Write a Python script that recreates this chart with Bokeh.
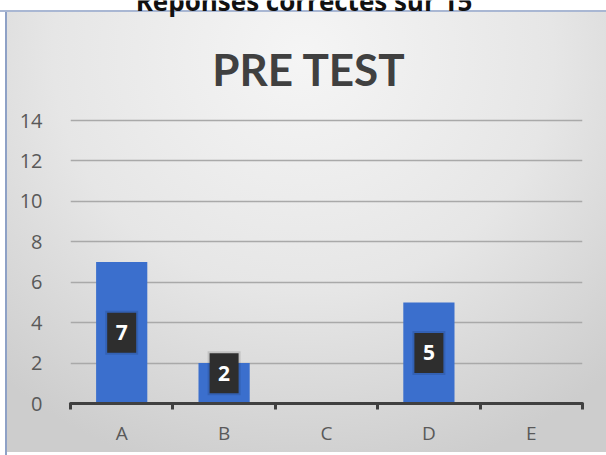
from bokeh.plotting import figure
from bokeh.models import ColumnDataSource, FixedTicker, Range1d
from bokeh.core.properties import value
from bokeh.embed import file_html
from bokeh.resources import INLINE

# ---- data ----
categories = ["A", "B", "C", "D", "E"]
scores = [7, 2, 0, 5, 0]
y_ticks = [0, 2, 4, 6, 8, 10, 12, 14]
chart_title = "PRE TEST"
top_caption = "Réponses correctes sur 15"

xs = [i + 0.5 for i in range(len(categories))]
bars = ColumnDataSource(dict(x=xs, top=scores, cat=categories))

lab_x = [x for x, v in zip(xs, scores) if v > 0]
lab_v = [v for v in scores if v > 0]
lab_y = [max(v / 2, 1.5) for v in lab_v]
labels = ColumnDataSource(dict(x=lab_x, y=lab_y, txt=[str(v) for v in lab_v]))

# frame spans from canvas top down to the axis; 14 units = 283 px
y_top = 403 * 14 / 283
p = figure(width=606, height=455, output_backend="svg", toolbar_location=None,
           x_range=Range1d(0, len(categories)), y_range=Range1d(0, y_top),
           min_border_left=70, min_border_right=24, min_border_top=0, min_border_bottom=52)

p.background_fill_color = None
p.border_fill_color = None
p.outline_line_color = None
p.styles = {
    "background":
        "linear-gradient(#ffffff,#ffffff) 0 0/100% 10px no-repeat, "
        "linear-gradient(#a9b7d3,#a9b7d3) 0 10px/100% 2px no-repeat, "
        "linear-gradient(#ffffff,#ffffff) 0 0/5px 100% no-repeat, "
        "linear-gradient(#8ea1c6,#8ea1c6) 5px 10px/2px 100% no-repeat, "
        "linear-gradient(#ffffff,#ffffff) 0 100%/100% 3px no-repeat, "
        "radial-gradient(ellipse 75% 95% at 50% 12%, #f5f5f5 0%, #e6e6e6 55%, #cdcdcd 100%)",
}

p.vbar(x="x", top="top", bottom=0, width=0.5, source=bars,
       fill_color="#3b6fcd", line_color=None)

# label boxes with a soft shadow
p.rect(x="x", y="y", width=33, height=44, width_units="screen", height_units="screen",
       source=labels, fill_color="#000000", fill_alpha=0.12, line_color=None)
p.rect(x="x", y="y", width=29, height=40, width_units="screen", height_units="screen",
       source=labels, fill_color="#2e2e2e", line_color=None)
p.text(x="x", y="y", text="txt", source=labels, text_color="white",
       text_font=value("Open Sans"), text_font_style="bold", text_font_size="21px",
       text_align="center", text_baseline="middle")

# titles
p.text(x=[2.33], y=[16.55], text=[chart_title], text_align="center",
       text_baseline="middle", text_font=value("Lato"),
       text_font_style="bold", text_font_size="44px", text_color="#404040")
p.text(x=[2.28], y=[19.9], text=[top_caption], text_align="center",
       text_baseline="alphabetic", text_font=value("Open Sans"),
       text_font_style="bold", text_font_size="26px", text_color="#111111")

# axes
xa = p.xaxis[0]
xa.ticker = FixedTicker(ticks=xs, minor_ticks=list(range(len(categories) + 1)))
xa.major_label_overrides = {x: c for x, c in zip(xs, categories)}
xa.major_tick_line_color = None
xa.minor_tick_in = 0
xa.minor_tick_out = 6
xa.minor_tick_line_width = 3
xa.minor_tick_line_color = "#404040"
xa.axis_line_width = 3
xa.axis_line_color = "#404040"
xa.axis_line_cap = "round"
xa.major_label_standoff = 10
xa.major_label_text_font = "Open Sans"
xa.major_label_text_font_size = "19px"
xa.major_label_text_color = "#595959"

ya = p.yaxis[0]
ya.ticker = FixedTicker(ticks=y_ticks)
ya.axis_line_color = None
ya.major_tick_line_color = None
ya.minor_tick_line_color = None
ya.major_label_standoff = 22
ya.major_label_text_font = "Open Sans"
ya.major_label_text_font_size = "20px"
ya.major_label_text_color = "#595959"

p.xgrid.grid_line_color = None
p.ygrid.ticker = FixedTicker(ticks=y_ticks[1:])
p.ygrid.grid_line_color = "#a9a9a9"
p.ygrid.grid_line_width = 1.5

open("out.html", "w").write(file_html(p, INLINE))
